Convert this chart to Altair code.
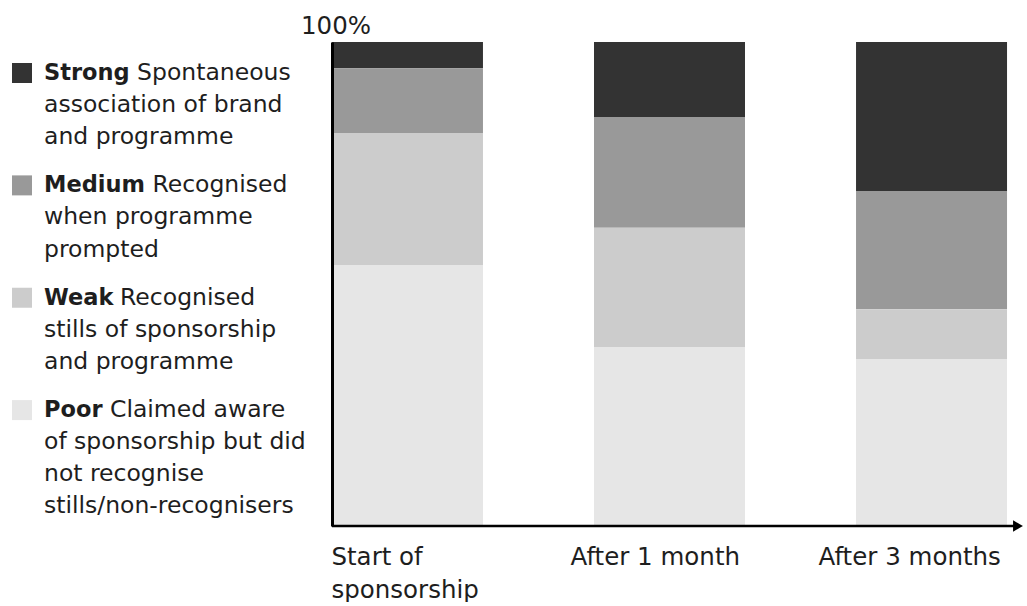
import altair as alt
import pandas as pd

# Share of respondents (%) at each awareness level, per survey wave
periods = ["Start of sponsorship", "After 1 month", "After 3 months"]
levels = ["Strong", "Medium", "Weak", "Poor"]
strong = [5.4, 15.5, 30.8]
medium = [13.4, 22.9, 24.4]
weak = [27.3, 24.6, 10.3]
poor = [53.9, 37.0, 34.5]
shades = ["#333333", "#999999", "#cccccc", "#e6e6e6"]

# Legend wording: bold keyword, then the description lines
legend_bold = ["Strong", "Medium", "Weak", "Poor"]
legend_lines = [
    ["Spontaneous", "association of brand", "and programme"],
    ["Recognised", "when programme", "prompted"],
    ["Recognised", "stills of sponsorship", "and programme"],
    ["Claimed aware", "of sponsorship but did", "not recognise", "stills/non-recognisers"],
]

FONT = "DejaVu Sans"
FS_LEG = 23.5
FS_KW = 22.5
FS_AX = 24.5
INK = "#1e1e1e"
PLOT_H = 484
PLOT_W = 675
LEG_W = 332

# ---- stacked bars -------------------------------------------------------
series = {"Strong": strong, "Medium": medium, "Weak": weak, "Poor": poor}
stack_rank = {"Poor": 0, "Weak": 1, "Medium": 2, "Strong": 3}
rows = []
for lvl in levels:
    for p, v in zip(periods, series[lvl]):
        rows.append({"period": p, "level": lvl, "value": v, "rank": stack_rank[lvl]})
bars_df = pd.DataFrame(rows)

x_enc = alt.X(
    "period:N",
    sort=periods,
    scale=alt.Scale(paddingInner=0.424, paddingOuter=0),
    axis=alt.Axis(
        title=None,
        domain=False,
        ticks=False,
        labelAngle=0,
        labelLimit=0,
        labelFont=FONT,
        labelFontSize=FS_AX,
        labelColor=INK,
        labelAlign="left",
        labelBaseline="top",
        labelPadding=19,
        labelLineHeight=33,
        labelExpr="datum.label == 'Start of sponsorship' ? ['Start of', 'sponsorship'] : datum.label",
        labelOffset={
            "condition": [
                {"test": "datum.value == 'After 1 month'", "value": -99},
                {"test": "datum.value == 'After 3 months'", "value": -113},
            ],
            "value": -76,
        },
    ),
)
y_scale = alt.Scale(domain=[0, 100], nice=False)

bars = alt.Chart(bars_df).mark_bar(size=151).encode(
    x=x_enc,
    y=alt.Y(
        "value:Q",
        stack="zero",
        scale=y_scale,
        axis=alt.Axis(
            title=None, labels=False, ticks=False, grid=False, minExtent=0,
            domainColor="black", domainWidth=3, zindex=1,
        ),
    ),
    color=alt.Color("level:N", scale=alt.Scale(domain=levels, range=shades), legend=None),
    order=alt.Order("rank:Q"),
)

zero_df = pd.DataFrame({"v": [0]})
top_df = pd.DataFrame({"v": [100]})

baseline = alt.Chart(zero_df).mark_rule(color="black", strokeWidth=2.5).encode(
    y=alt.Y("v:Q", scale=y_scale), x=alt.value(0), x2=alt.value(686)
)
arrow = alt.Chart(zero_df).mark_point(
    shape="triangle-right", filled=True, color="black", size=130, opacity=1
).encode(y=alt.Y("v:Q", scale=y_scale), x=alt.value(686))

top_label = alt.Chart(top_df).mark_text(
    text="100%", font=FONT, fontSize=FS_AX, color=INK, align="center",
    baseline="alphabetic", dy=-8,
).encode(y=alt.Y("v:Q", scale=y_scale), x=alt.value(4))

bar_panel = alt.layer(bars, baseline, arrow, top_label).properties(
    width=PLOT_W, height=PLOT_H
)

# ---- hand-built legend --------------------------------------------------
# DejaVu Sans Bold advance widths (em) for the keyword letters
bold_em = {
    "S": 0.720, "t": 0.478, "r": 0.493, "o": 0.687, "n": 0.712, "g": 0.716,
    "M": 0.995, "e": 0.678, "d": 0.716, "i": 0.343, "u": 0.712, "m": 1.042,
    "W": 1.032, "a": 0.675, "k": 0.665, "P": 0.733,
}
SPACE_EM = 0.318
TEXT_X = 44
GROUP_GAP = 0.5

leg_rows = []
slot = 0.0
for g, (kw, lines) in enumerate(zip(legend_bold, legend_lines)):
    kw_w = sum(bold_em[c] for c in kw) * FS_KW + SPACE_EM * FS_LEG
    for i, line in enumerate(lines):
        leg_rows.append({
            "group": levels[g],
            "slot": slot,
            "first": i == 0,
            "text": line,
            "kw": kw if i == 0 else "",
            "tx": TEXT_X + (kw_w if i == 0 else 0),
        })
        slot += 1
    slot += GROUP_GAP
leg_df = pd.DataFrame(leg_rows)

slot_scale = alt.Scale(domain=[-0.966, 14.11], reverse=True, nice=False, zero=False)
y_slot = alt.Y("slot:Q", scale=slot_scale, axis=None)

swatches = alt.Chart(leg_df).transform_filter("datum.first").mark_point(
    shape="square", filled=True, size=400, opacity=1
).encode(
    x=alt.value(22),
    y=y_slot,
    color=alt.Color("group:N", scale=alt.Scale(domain=levels, range=shades), legend=None),
)
keywords = alt.Chart(leg_df).transform_filter("datum.first").mark_text(
    font=FONT, fontSize=FS_KW, fontWeight="bold", color=INK, align="left", baseline="middle"
).encode(x=alt.value(TEXT_X), y=y_slot, text="kw:N")
descr = alt.Chart(leg_df).mark_text(
    font=FONT, fontSize=FS_LEG, color=INK, align="left", baseline="middle"
).encode(x=alt.X("tx:Q", scale=None, axis=None), y=y_slot, text="text:N")

legend_panel = alt.layer(swatches, keywords, descr).properties(
    width=LEG_W, height=PLOT_H
)

chart = (
    alt.hconcat(legend_panel, bar_panel, spacing=0, bounds="flush")
    .properties(padding={"top": 14, "left": 0, "right": 0, "bottom": 0}, background="white")
    .configure_view(stroke=None)
)

chart.save("out.html", embed_options={"renderer": "svg", "actions": False})
